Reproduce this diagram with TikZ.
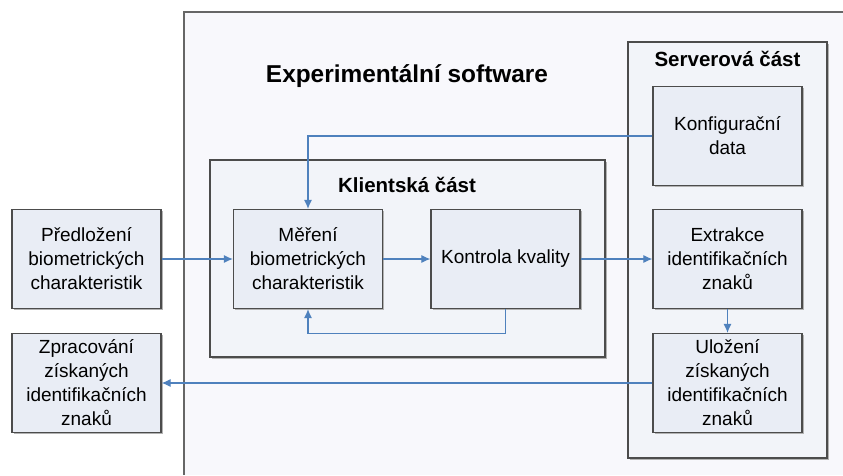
\documentclass[tikz,border=0pt]{standalone}
\usepackage{fontspec}
\setmainfont{Liberation Sans}
\usepackage{tikz}
\usetikzlibrary{calc,shapes,arrows,arrows.meta,shadows}
\definecolor{boxfill}{HTML}{E9EDF5}
\definecolor{groupfill}{HTML}{F2F4F9}
\definecolor{swfill}{HTML}{F8F8FC}
\definecolor{flow}{HTML}{4F81BD}
\tikzset{
   box shadow/.style={drop shadow={shadow xshift=1.5pt,shadow yshift=-1.5pt,fill=black!30,opacity=1}},
   block node/.style={rectangle,fill=boxfill,draw=black!70,line width=1.2pt,box shadow,
                      minimum width=149pt,minimum height=99pt,align=center,
                      font=\fontsize{19}{24}\selectfont},
   group box/.style={fill=groupfill,draw=black!70,line width=1.2pt,box shadow},
   title node/.style={font=\bfseries\fontsize{20.5}{24}\selectfont}
}
\begin{document}
\begin{tikzpicture}[x=1pt,y=-1pt,
                    ->,>={Latex[length=9pt,width=8pt]},
                    flow line/.style={draw=flow,line width=1.1pt}]
\useasboundingbox (0,0) rectangle (843,475);
% outer software frame
\fill[swfill] (184,12) rectangle (843,475);
\draw[-,black!60,line width=1.5pt] (843,12) -- (184,12) -- (184,475);
\node[font=\bfseries\fontsize{24.4}{28}\selectfont] (sw) at (407,76) {Experimentální software};
%
\path[group box] (210,160) rectangle (605,357);
\path[group box] (628,42) rectangle (827,458);
\node[title node] (client) at (407,185) {Klientská část};
\node[title node] (server) at (727.5,59) {Serverová část};
%
\node[block node] (predl)  at (86.5,259)  {Předložení\\biometrických\\charakteristik};
\node[block node] (zprac)  at (86.5,383)  {Zpracování\\získaných\\identifikačních\\znaků};
\node[block node] (mereni) at (308,259)   {Měření\\biometrických\\charakteristik};
\node[block node] (kontr)  at (505.5,259) {Kontrola kvality};
\node[block node] (konf)   at (727.5,136) {Konfigurační\\data};
\node[block node] (extr)   at (727.5,259) {Extrakce\\identifikačních\\znaků};
\node[block node] (ulo)    at (727.5,383) {Uložení\\získaných\\identifikačních\\znaků};
%
\path[every edge/.style={draw,flow line}]
  (predl)  edge (mereni)
  (mereni) edge (kontr)
  (kontr)  edge (extr)
  (extr)   edge (ulo)
  (ulo)    edge (zprac)
  ;
\draw[flow line] (konf.west) -| (mereni.north);
\draw[flow line] (kontr.south) -- ++(0,24) -| (mereni.south);
\end{tikzpicture}
\end{document}
